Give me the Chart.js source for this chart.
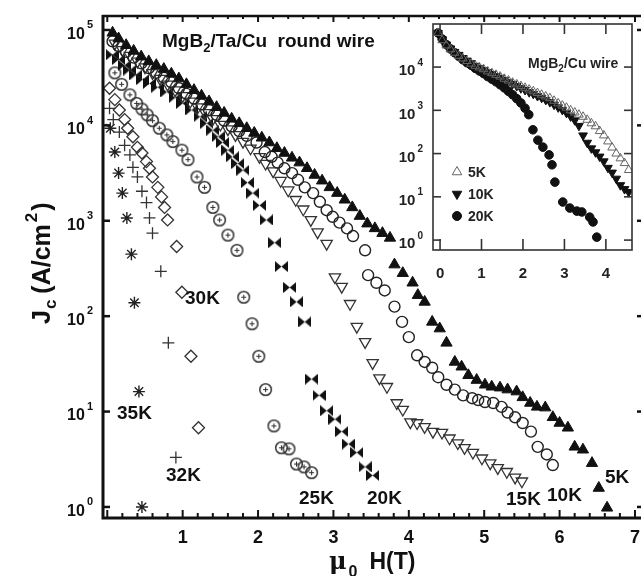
<!DOCTYPE html>
<html>
<head>
<meta charset="utf-8">
<script src="https://cdn.jsdelivr.net/npm/chart.js@4.4.0/dist/chart.umd.min.js"></script>
<style>
html, body { margin: 0; padding: 0; background: #fff; }
#wrap { position: relative; width: 641px; height: 576px; overflow: hidden; }
#main { position: absolute; left: 0; top: 0; }
#inset { position: absolute; left: 385px; top: 18px; }
</style>
</head>
<body>
<div id="wrap">
  <canvas id="main" width="641" height="576" style="width:641px;height:576px"></canvas>
  <canvas id="inset" width="255" height="272" style="width:255px;height:272px"></canvas>
</div>
<script>
// ---- main plot: MgB2/Ta/Cu round wire, Jc (A/cm2) vs mu0H (T)
let h5 = [0.07,0.15,0.25,0.35,0.45,0.55,0.65,0.75,0.85,0.95,1.05,1.15,1.25,1.35,1.45,1.55,1.65,1.75,1.85,1.95,2.05,2.15,2.25,2.35,2.45,2.55,2.65,2.75,2.85,2.95,3.05,3.15,3.25,3.35,3.45,3.55,3.65,3.75,3.81,3.92,4.05,4.12,4.21,4.31,4.41,4.50,4.61,4.70,4.79,4.90,5.01,5.10,5.21,5.31,5.43,5.51,5.61,5.70,5.81,5.91,6.00,6.11,6.20,6.31,6.43,6.52,6.63];
let j5 = [93300,81300,69200,60300,52500,46800,42700,38900,34700,30900,26900,23400,20400,17800,15500,13500,11700,10500,9330,8320,7410,6610,5750,5130,4570,4070,3550,3020,2630,2240,1950,1660,1380,1120,933,832,741,661,347,282,224,166,141,87.1,74.1,52.5,33.1,29.5,24.0,21.4,19.1,18.2,17.8,17.0,16.2,14.1,12.3,11.2,11.0,8.71,7.59,6.76,4.27,3.98,2.88,1.58,0.98];

let h10 = [0.07,0.15,0.25,0.35,0.45,0.55,0.65,0.75,0.85,0.95,1.05,1.15,1.25,1.35,1.45,1.55,1.65,1.75,1.85,1.98,2.09,2.18,2.26,2.35,2.45,2.53,2.62,2.73,2.82,2.91,2.99,3.08,3.18,3.26,3.42,3.46,3.57,3.68,3.81,3.91,4.00,4.11,4.21,4.31,4.39,4.50,4.61,4.72,4.84,4.92,5.01,5.12,5.23,5.31,5.41,5.51,5.62,5.71,5.83,5.91];
let j10 = [75900,67600,58900,51300,44700,39800,35500,31600,28200,24500,21400,19100,16600,14500,12900,11200,9770,8710,7760,6610,5250,4680,4070,3550,3160,2690,2240,1950,1580,1290,1100,955,832,692,490,269,224,186,126,87.1,60.3,38.9,33.1,28.8,22.9,19.1,17.0,14.8,13.8,13.2,12.6,12.3,11.2,9.77,8.71,7.59,6.17,4.27,3.55,2.75];

let h15 = [0.10,0.20,0.30,0.40,0.50,0.60,0.70,0.80,0.90,1.00,1.10,1.20,1.30,1.40,1.50,1.60,1.70,1.80,1.90,2.02,2.10,2.20,2.30,2.40,2.50,2.60,2.70,2.79,2.91,3.02,3.11,3.22,3.31,3.42,3.52,3.61,3.71,3.84,3.92,4.02,4.11,4.21,4.32,4.44,4.54,4.65,4.74,4.85,4.97,5.08,5.18,5.30,5.41,5.50];
let j15 = [72400,61700,53700,46800,40700,35500,30900,26900,23400,20400,17800,15500,13500,11700,10200,9120,7940,6760,5750,4680,3980,3310,2630,2090,1660,1320,1020,759,575,257,204,135,77.6,53.7,32.4,22.4,18.2,12.3,10.5,7.76,7.59,6.92,6.17,6.03,5.25,4.68,4.17,3.72,3.24,2.88,2.57,2.34,2.04,1.86];

let h20 = [0.07,0.15,0.23,0.30,0.38,0.47,0.56,0.67,0.79,0.90,1.00,1.12,1.23,1.32,1.40,1.47,1.53,1.60,1.66,1.73,1.80,1.86,1.93,2.02,2.11,2.22,2.31,2.42,2.51,2.62,2.71,2.81,2.91,3.02,3.11,3.20,3.31,3.42,3.52];
let j20 = [55000,49000,42700,38000,33900,30200,27500,25100,22400,19500,17000,14500,12300,10500,8910,7590,6610,5500,4680,3980,3390,2510,1950,1450,1020,589,331,200,141,87.1,21.9,14.8,10.2,8.32,6.17,4.57,3.72,2.63,2.14];

let h25 = [0.10,0.19,0.30,0.39,0.46,0.53,0.60,0.69,0.79,0.87,0.99,1.07,1.19,1.29,1.40,1.49,1.60,1.72,1.81,1.92,2.01,2.10,2.21,2.31,2.41,2.51,2.61,2.71];
let j25 = [35500,26900,20900,17000,14800,12900,11200,9330,7940,6760,5500,4370,2880,2240,1380,1020,708,490,158,83.2,38.0,17.0,7.08,4.17,4.07,2.82,2.63,2.29];

let h30 = [0.03,0.10,0.16,0.23,0.27,0.34,0.40,0.46,0.52,0.56,0.60,0.67,0.72,0.76,0.80,0.92,0.99,1.11,1.21];
let j30 = [24500,18600,14500,11500,9330,7590,5890,5130,4170,3550,2880,2240,1780,1380,1020,537,178,38.0,6.76];

let h32 = [0.03,0.08,0.16,0.23,0.30,0.34,0.40,0.46,0.52,0.56,0.60,0.71,0.81,0.91];
let j32 = [15100,11500,8510,6170,4900,3630,2880,2040,1550,1070,741,295,52.5,3.31];

let h35 = [0.04,0.10,0.15,0.20,0.26,0.32,0.36,0.42,0.46];
let j35 = [9330,5250,3160,1950,1070,447,138,16.2,1.0];

let xTickValues = [];
for (let i = 0; i <= 35; i++) xTickValues.push(Math.round(i * 2) / 10);
let xLabelValues = [1, 2, 3, 4, 5, 6, 7];
let xTickLabels = ['1', '2', '3', '4', '5', '6', '7'];
let yTickValues = [1, 10, 100, 1000, 10000, 100000];
let yTickExps = ['0', '1', '2', '3', '4', '5'];

// ---- inset: MgB2/Cu wire
let ih5 = [-0.05,0.05,0.15,0.25,0.35,0.45,0.55,0.65,0.75,0.85,0.95,1.05,1.15,1.25,1.35,1.45,1.55,1.65,1.75,1.85,1.95,2.05,2.15,2.25,2.35,2.45,2.55,2.65,2.75,2.85,2.95,3.05,3.15,3.25,3.35,3.45,3.55,3.65,3.75,3.85,3.95,4.05,4.15,4.25,4.35,4.45,4.55];
let ij5 = [61700,41700,31600,25700,21400,18200,15800,13800,12000,10700,9770,8910,7940,7240,6610,6030,5370,4900,4370,3980,3630,3310,3020,2750,2510,2290,2090,1910,1660,1450,1290,1150,1000,891,794,708,603,501,427,331,263,191,138,100,77.6,60.3,41.7];

let ih10 = [-0.05,0.05,0.15,0.25,0.35,0.45,0.55,0.65,0.75,0.85,0.95,1.05,1.15,1.25,1.35,1.45,1.55,1.65,1.75,1.85,1.95,2.05,2.15,2.25,2.35,2.45,2.55,2.65,2.75,2.85,2.95,3.05,3.15,3.25,3.35,3.45,3.55,3.65,3.75,3.85,3.95,4.05,4.15,4.25,4.35,4.45,4.55];
let ij10 = [61700,43700,33100,26900,22400,19100,16200,14100,12300,10700,9550,8510,7590,6920,6170,5620,5010,4470,4070,3630,3240,2950,2630,2400,2140,1950,1740,1550,1350,1170,1020,871,724,589,437,263,178,132,107,85.1,66.1,46.8,36.3,26.3,18.6,15.1,12.9];

let ih20 = [-0.05,0.05,0.15,0.25,0.35,0.45,0.55,0.65,0.75,0.85,0.95,1.05,1.15,1.25,1.35,1.45,1.55,1.65,1.75,1.85,1.95,2.05,2.14,2.24,2.36,2.48,2.63,2.70,2.77,2.96,3.13,3.30,3.42,3.61,3.69,3.78];
let ij20 = [61700,44700,33100,26300,21400,17800,14800,12600,11000,9330,8130,7080,6030,5250,4570,3890,3310,2750,2290,1860,1480,1120,794,355,204,141,93.3,55.0,21.9,7.59,5.50,4.68,4.47,3.39,2.63,1.17];

let ixTickValues = [0, 1, 2, 3, 4];
let ixTickLabels = ['0', '1', '2', '3', '4'];
let iyTickValues = [1, 10, 100, 1000, 10000];
let iyTickExps = ['0', '1', '2', '3', '4'];

const FONT = '"Liberation Sans", Arial, sans-serif';
const NARROW = '"Liberation Sans Narrow", "Liberation Sans", Arial, sans-serif';

function pts(xs, ys) {
    return xs.map((x, i) => ({ x: x, y: ys[i] }));
}
function isInt(v) {
    return Math.abs(v - Math.round(v)) < 1e-6;
}

// bowtie marker (20K)
function makeBowtie() {
    var c = document.createElement('canvas');
    c.width = 13; c.height = 11;
    var g = c.getContext('2d');
    g.fillStyle = '#111';
    g.beginPath(); g.moveTo(0, 0); g.lineTo(6.5, 5.5); g.lineTo(0, 11); g.closePath(); g.fill();
    g.beginPath(); g.moveTo(13, 0); g.lineTo(6.5, 5.5); g.lineTo(13, 11); g.closePath(); g.fill();
    return c;
}
// circle with a plus inside (25K)
function makeCirclePlus() {
    var c = document.createElement('canvas');
    c.width = 15; c.height = 15;
    var g = c.getContext('2d');
    g.strokeStyle = '#333';
    g.lineWidth = 1.5;
    g.beginPath(); g.arc(7.5, 7.5, 5.8, 0, Math.PI * 2); g.stroke();
    g.lineWidth = 1.1;
    g.beginPath(); g.moveTo(5, 7.5); g.lineTo(10, 7.5); g.moveTo(7.5, 5); g.lineTo(7.5, 10); g.stroke();
    return c;
}

function line(ctx, x1, y1, x2, y2) {
    ctx.beginPath(); ctx.moveTo(x1, y1); ctx.lineTo(x2, y2); ctx.stroke();
}

// text made of pieces: [text, size, dy, gapAfter, family]
function pieces(ctx, list, x, y, weight, family) {
    list.forEach(p => {
        ctx.font = weight + ' ' + p[1] + 'px ' + (p[4] || family);
        ctx.fillText(p[0], x, y + p[2]);
        x += ctx.measureText(p[0]).width + (p[3] || 0);
    });
    return x;
}

// "10" with a raised exponent, right edge at xr
function decadeLabel(ctx, exp, xr, yc, big, small, family) {
    ctx.textAlign = 'left';
    ctx.font = 'bold ' + small + 'px ' + family;
    const we = ctx.measureText(exp).width;
    ctx.fillText(exp, xr - we, yc - big * 0.3);
    ctx.font = 'bold ' + big + 'px ' + family;
    const wb = ctx.measureText('10').width;
    ctx.fillText('10', xr - we - 2 - wb, yc + big * 0.36);
}

function axisNumbers(ctx, scale, values, labels, yc, size, family) {
    ctx.textAlign = 'center';
    ctx.font = 'bold ' + size + 'px ' + family;
    values.forEach((v, i) => {
        ctx.fillText(labels[i], scale.getPixelForValue(v), yc + size * 0.36);
    });
    ctx.textAlign = 'left';
}

const mainDecor = {
    id: 'mainDecor',
    afterDraw(chart) {
        const ctx = chart.ctx, a = chart.chartArea;
        const x = chart.scales.x, y = chart.scales.y;
        ctx.save();
        ctx.strokeStyle = '#111';
        ctx.fillStyle = '#111';
        // frame
        ctx.lineWidth = 3;
        ctx.beginPath();
        ctx.moveTo(a.left + 1, a.top);
        ctx.lineTo(a.left + 1, a.bottom + 1);
        ctx.lineTo(a.right, a.bottom + 1);
        ctx.stroke();
        ctx.lineWidth = 2.5;
        line(ctx, a.left, a.top + 1, a.right, a.top + 1);
        // inward ticks
        x.ticks.forEach(t => {
            const px = x.getPixelForValue(t.value);
            const L = isInt(t.value) ? 7 : 4;
            ctx.lineWidth = 2;
            line(ctx, px, a.bottom, px, a.bottom - L);
            line(ctx, px, a.top, px, a.top + L);
        });
        ctx.textBaseline = 'alphabetic';
        ctx.textAlign = 'left';
        y.ticks.forEach((t, i) => {
            const py = y.getPixelForValue(t.value);
            ctx.lineWidth = 2.5;
            line(ctx, a.left, py, a.left + 8, py);
            line(ctx, a.right, py, a.right - 4, py);
            decadeLabel(ctx, yTickExps[i], a.left - 9, py + 3, 16, 11, FONT);
        });
        axisNumbers(ctx, x, xLabelValues, xTickLabels, a.bottom + 20, 18, FONT);

        // title
        pieces(ctx, [['MgB', 19, 0], ['2', 13, 5], ['/Ta/Cu  round wire', 19, 0]], 162, 47, 'bold', FONT);
        // temperature labels
        ctx.font = 'bold 19px ' + FONT;
        [['35K', 117, 419], ['32K', 166, 481], ['30K', 185, 304], ['25K', 299, 504],
         ['20K', 367, 504], ['15K', 506, 505], ['10K', 547, 501], ['5K', 605, 483]].forEach(l => {
            ctx.fillText(l[0], l[1], l[2]);
        });
        // y title
        ctx.save();
        ctx.translate(50, 324);
        ctx.rotate(-Math.PI / 2);
        pieces(ctx, [['J', 25, 0, 1], ['c', 17, 6, 6], ['(A/cm', 25, 0, 2], ['2', 17, -13, 2], [')', 25, 0]], 0, 0, 'bold', FONT);
        ctx.restore();
        // x title
        pieces(ctx, [['μ', 24, 0, 2, '"DejaVu Serif", serif'], ['0', 16, 8, 12], ['H(T)', 23, 0]], 329, 569, 'bold', FONT);
        ctx.restore();
    }
};

new Chart(document.getElementById('main').getContext('2d'), {
    type: 'scatter',
    data: {
        datasets: [
            { label: '5K', data: pts(h5, j5), pointStyle: 'triangle', radius: 6.5, backgroundColor: '#111', borderColor: '#111', borderWidth: 1 },
            { label: '10K', data: pts(h10, j10), pointStyle: 'circle', radius: 5.5, backgroundColor: 'rgba(255,255,255,0)', borderColor: '#222', borderWidth: 1.4 },
            { label: '15K', data: pts(h15, j15), pointStyle: 'triangle', rotation: 180, radius: 6.5, backgroundColor: 'rgba(255,255,255,0)', borderColor: '#333', borderWidth: 1.3 },
            { label: '20K', data: pts(h20, j20), pointStyle: makeBowtie(), radius: 6 },
            { label: '25K', data: pts(h25, j25), pointStyle: makeCirclePlus(), radius: 6 },
            { label: '30K', data: pts(h30, j30), pointStyle: 'rectRot', radius: 6, backgroundColor: 'rgba(255,255,255,0)', borderColor: '#333', borderWidth: 1.3 },
            { label: '32K', data: pts(h32, j32), pointStyle: 'cross', radius: 6, borderColor: '#333', borderWidth: 1.3 },
            { label: '35K', data: pts(h35, j35), pointStyle: 'star', radius: 6, borderColor: '#222', borderWidth: 1.4 }
        ]
    },
    options: {
        responsive: false,
        animation: false,
        layout: { autoPadding: false, padding: { left: 0, right: 0, top: 15, bottom: 0 } },
        plugins: { legend: { display: false }, tooltip: { enabled: false } },
        scales: {
            x: {
                type: 'linear', min: -0.07, max: 7.08,
                afterBuildTicks: s => { s.ticks = xTickValues.map(v => ({ value: v })); },
                afterFit: s => { s.height = 59; },
                grid: { display: false }, border: { display: false },
                ticks: { display: false }
            },
            y: {
                type: 'logarithmic', min: 0.785, max: 143500,
                afterBuildTicks: s => { s.ticks = yTickValues.map(v => ({ value: v })); },
                afterFit: s => { s.width = 102; },
                grid: { display: false }, border: { display: false },
                ticks: { display: false }
            }
        }
    },
    plugins: [mainDecor]
});

// ---- inset
const insetDecor = {
    id: 'insetDecor',
    beforeDraw(chart) {
        const ctx = chart.ctx, a = chart.chartArea;
        ctx.save();
        ctx.fillStyle = '#fff';
        ctx.fillRect(a.left, a.top, a.right - a.left, a.bottom - a.top);
        ctx.restore();
    },
    afterDraw(chart) {
        const ctx = chart.ctx, a = chart.chartArea;
        const x = chart.scales.x, y = chart.scales.y;
        ctx.save();
        ctx.strokeStyle = '#333';
        ctx.fillStyle = '#222';
        ctx.lineWidth = 1.6;
        ctx.strokeRect(a.left, a.top, a.right - a.left, a.bottom - a.top);
        x.ticks.forEach(t => {
            const px = x.getPixelForValue(t.value);
            line(ctx, px, a.bottom, px, a.bottom - 11);
            line(ctx, px, a.top, px, a.top + 10);
        });
        ctx.textBaseline = 'alphabetic';
        y.ticks.forEach((t, i) => {
            const py = y.getPixelForValue(t.value);
            line(ctx, a.left, py, a.left + 8, py);
            line(ctx, a.right, py, a.right - 8, py);
            decadeLabel(ctx, iyTickExps[i], a.left - 10, py + 3, 15, 10, NARROW);
        });
        axisNumbers(ctx, x, ixTickValues, ixTickLabels, a.bottom + 23, 15, NARROW);
        pieces(ctx, [['MgB', 14, 0], ['2', 10, 4], ['/Cu wire', 14, 0]], 143, 50, 'bold', NARROW);
        // legend, taken from the datasets
        chart.data.datasets.forEach((ds, i) => {
            const cy = 154 + i * 22;
            const cx = 72;
            ctx.save();
            ctx.translate(cx, cy);
            ctx.rotate((ds.rotation || 0) * Math.PI / 180);
            ctx.beginPath();
            if (ds.pointStyle === 'circle') {
                ctx.arc(0, 0, 4.5, 0, Math.PI * 2);
            } else {
                const r = 5.5;
                ctx.moveTo(0, -r);
                ctx.lineTo(r * 0.866, r * 0.5);
                ctx.lineTo(-r * 0.866, r * 0.5);
                ctx.closePath();
            }
            ctx.fillStyle = ds.backgroundColor;
            ctx.fill();
            ctx.strokeStyle = ds.borderColor;
            ctx.lineWidth = 1;
            ctx.stroke();
            ctx.restore();
            ctx.fillStyle = '#222';
            ctx.font = 'bold 14px ' + NARROW;
            ctx.fillText(ds.label, 83, cy + 5);
        });
        ctx.restore();
    }
};

new Chart(document.getElementById('inset').getContext('2d'), {
    type: 'scatter',
    data: {
        datasets: [
            { label: '5K', data: pts(ih5, ij5), pointStyle: 'triangle', radius: 5, backgroundColor: 'rgba(255,255,255,0)', borderColor: '#666', borderWidth: 1 },
            { label: '10K', data: pts(ih10, ij10), pointStyle: 'triangle', rotation: 180, radius: 5, backgroundColor: '#111', borderColor: '#111', borderWidth: 1 },
            { label: '20K', data: pts(ih20, ij20), pointStyle: 'circle', radius: 4.3, backgroundColor: '#111', borderColor: '#111', borderWidth: 1 }
        ]
    },
    options: {
        responsive: false,
        animation: false,
        layout: { autoPadding: false, padding: { left: 0, right: 8, top: 6, bottom: 0 } },
        plugins: { legend: { display: false }, tooltip: { enabled: false } },
        scales: {
            x: {
                type: 'linear', min: -0.17, max: 4.63,
                afterBuildTicks: s => { s.ticks = ixTickValues.map(v => ({ value: v })); },
                afterFit: s => { s.height = 40; },
                grid: { display: false }, border: { display: false },
                ticks: { display: false }
            },
            y: {
                type: 'logarithmic', min: 0.59, max: 99000,
                afterBuildTicks: s => { s.ticks = iyTickValues.map(v => ({ value: v })); },
                afterFit: s => { s.width = 48; },
                grid: { display: false }, border: { display: false },
                ticks: { display: false }
            }
        }
    },
    plugins: [insetDecor]
});
</script>
</body>
</html>
